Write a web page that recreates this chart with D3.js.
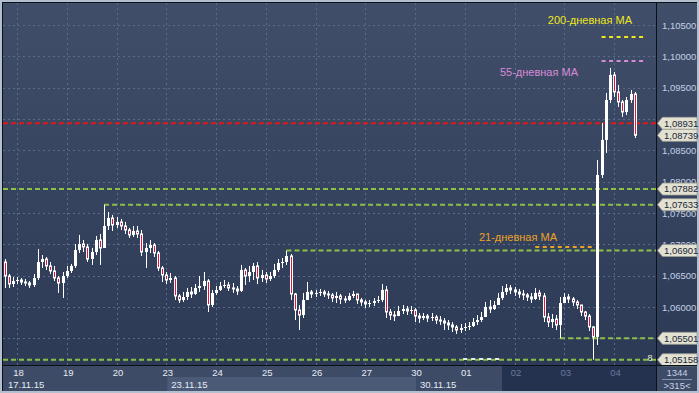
<!DOCTYPE html>
<html>
<head>
<meta charset="utf-8">
<script src="https://cdn.jsdelivr.net/npm/d3@7"></script>
<style>
body{margin:0;background:#b3bece;}
svg{display:block;font-family:"Liberation Sans",Arial,sans-serif;}
</style>
</head>
<body>
<svg id="chart" width="699" height="393"></svg>
<script>
// ---- data (EURUSD, H2 bars, open = previous close) ----
const firstOpen = 1.06718;
const closes = [
 1.06495,1.06367,1.06415,
 1.06431,1.06399,1.06383,1.06351,1.06463,1.06718,1.06766,1.06655,1.06575,1.06463,1.06383,1.06495,
 1.06575,1.06655,1.06910,1.07006,1.06958,1.06766,1.06878,1.07070,1.06942,1.07293,1.07421,1.07309,
 1.07357,1.07293,1.07229,1.07150,1.07213,1.07166,1.06878,1.06942,1.06990,1.06862,1.06623,1.06511,
 1.06431,1.06463,1.06176,1.06112,1.06160,1.06240,1.06208,1.06304,1.06335,1.06415,1.06032,1.06224,
 1.06272,1.06335,1.06351,1.06304,1.06288,1.06256,1.06591,1.06495,1.06559,1.06655,1.06463,1.06511,
 1.06447,1.06495,1.06591,1.06703,1.06718,1.06814,1.06208,1.05952,1.05872,1.06112,1.06240,1.06208,
 1.06224,1.06240,1.06208,1.06192,1.06144,1.06176,1.06128,1.06112,1.06176,1.06208,1.06112,1.06080,
 1.06048,1.06064,1.06096,1.06112,1.06272,1.05920,1.05872,1.05856,1.05936,1.05968,1.05936,1.05952,
 1.05856,1.05824,1.05856,1.05824,1.05840,1.05792,1.05776,1.05745,1.05713,1.05681,1.05633,1.05665,
 1.05681,1.05697,1.05760,1.05792,1.05840,1.06000,1.05968,1.06032,1.06144,1.06240,1.06304,1.06272,
 1.06240,1.06208,1.06192,1.06160,1.06128,1.06224,1.06176,1.05840,1.05760,1.05808,1.05713,1.06064,
 1.06160,1.06128,1.06080,1.06032,1.05920,1.05856,1.05681,1.05522,1.08107,1.08666,1.09304,1.09703,
 1.09432,1.09272,1.09112,1.09304,1.09400,1.08739
];
const highs = [
 1.06766,1.06527,1.06479,
 1.06479,1.06463,1.06447,1.06415,1.06527,1.06926,1.06830,1.06798,1.06718,1.06655,1.06495,1.06559,
 1.06655,1.06687,1.07006,1.07150,1.07070,1.07006,1.06942,1.07134,1.07166,1.07633,1.07516,1.07469,
 1.07437,1.07405,1.07357,1.07261,1.07293,1.07293,1.07229,1.07022,1.07070,1.07022,1.06894,1.06655,
 1.06559,1.06543,1.06495,1.06208,1.06240,1.06304,1.06319,1.06367,1.06495,1.06559,1.06447,1.06272,
 1.06335,1.06399,1.06431,1.06399,1.06383,1.06335,1.06671,1.06623,1.06655,1.06703,1.06718,1.06591,
 1.06559,1.06559,1.06687,1.06766,1.06782,1.06901,1.06846,1.06224,1.06032,1.06224,1.06399,1.06272,
 1.06272,1.06288,1.06272,1.06256,1.06224,1.06240,1.06208,1.06176,1.06224,1.06256,1.06208,1.06144,
 1.06112,1.06112,1.06144,1.06176,1.06367,1.06335,1.05968,1.05936,1.06016,1.06032,1.06016,1.06016,
 1.05984,1.05904,1.05904,1.05888,1.05904,1.05872,1.05856,1.05824,1.05792,1.05760,1.05713,1.05729,
 1.05745,1.05760,1.05824,1.05872,1.05920,1.06080,1.06112,1.06096,1.06224,1.06335,1.06367,1.06351,
 1.06319,1.06288,1.06272,1.06224,1.06224,1.06304,1.06272,1.06224,1.05904,1.05888,1.05872,1.06160,
 1.06224,1.06208,1.06160,1.06112,1.06000,1.05936,1.05888,1.05697,1.08346,1.08937,1.09416,1.09815,
 1.09751,1.09543,1.09304,1.09352,1.09464,1.09432
];
const lows = [
 1.06304,1.06304,1.06319,
 1.06367,1.06351,1.06335,1.06304,1.06319,1.06431,1.06623,1.06591,1.06527,1.06415,1.06224,1.06144,
 1.06463,1.06543,1.06623,1.06862,1.06878,1.06718,1.06671,1.06830,1.06671,1.07022,1.07229,1.07213,
 1.07261,1.07229,1.07166,1.07102,1.07118,1.07102,1.06814,1.06623,1.06862,1.06798,1.06575,1.06399,
 1.06367,1.06383,1.06112,1.06064,1.06080,1.06112,1.06144,1.06192,1.06240,1.06272,1.05920,1.06000,
 1.06192,1.06256,1.06304,1.06256,1.06224,1.06192,1.06240,1.06351,1.06399,1.06431,1.06367,1.06399,
 1.06383,1.06415,1.06463,1.06559,1.06623,1.06671,1.06112,1.05792,1.05633,1.05824,1.06112,1.06144,
 1.06160,1.06176,1.06160,1.06128,1.06080,1.06064,1.06048,1.06064,1.06096,1.06144,1.06048,1.06016,
 1.05984,1.06000,1.06016,1.06064,1.06080,1.05824,1.05792,1.05776,1.05856,1.05888,1.05872,1.05888,
 1.05760,1.05745,1.05792,1.05760,1.05776,1.05729,1.05713,1.05633,1.05633,1.05601,1.05569,1.05585,
 1.05617,1.05633,1.05681,1.05713,1.05760,1.05872,1.05904,1.05952,1.06048,1.06112,1.06192,1.06208,
 1.06176,1.06144,1.06112,1.06096,1.06064,1.06112,1.06112,1.05760,1.05681,1.05665,1.05633,1.05501,
 1.06080,1.06064,1.06016,1.05968,1.05856,1.05792,1.05617,1.05158,1.05394,1.08059,1.08458,1.09256,
 1.09352,1.09192,1.09033,1.09065,1.09256,1.08697
];

const dayLabels = ['18','19','20','23','24','25','26','27','30','01','02','03','04'];
const dayStartBar = [3,15,27,39,51,63,75,87,99,111,123,135,147];
const weekLabels = ['17.11.15','23.11.15','30.11.15'];
const weekStartBar = [0,39,99];
const yTicks = [1.105,1.100,1.095,1.090,1.085,1.080,1.075,1.070,1.065,1.060,1.055];

const levelPrices = [1.07882,1.07633,1.06901,1.05501,1.05158];
const levelFromBar = [null,24,68,134,null];
const redLevel = 1.08931;
const lastPrice = 1.08739;
const weekLowMark = 1.05172;

const maNames = ['200-дневная MA','55-дневная MA','21-дневная MA'];
const maValues = [1.10309,1.09926,1.06958];
const maFromBar = [144,144,128];
const maToBar = [154.5,154.5,142.5];

// ---- layout ----
const plotL = 3, plotR = 656, plotT = 3, plotB = 365;
const svg = d3.select('#chart');

const x = d3.scaleLinear().domain([0,150]).range([4.56, 4.56 + 150*4.146]);
const y = d3.scaleLinear().domain([1.06,1.105]).range([307,25]);
const fmt = v => d3.format('.5f')(v).replace('.', ',');

const defs = svg.append('defs');
const grad = defs.append('linearGradient').attr('id','bg')
  .attr('gradientUnits','userSpaceOnUse').attr('x1',0).attr('y1',plotT).attr('x2',0).attr('y2',plotB);
grad.append('stop').attr('offset','0%').attr('stop-color','#404e6a');
grad.append('stop').attr('offset','100%').attr('stop-color','#2c3a56');
defs.append('clipPath').attr('id','clip').append('rect')
  .attr('x',plotL).attr('y',plotT).attr('width',plotR-plotL).attr('height',plotB-plotT);

// frame
svg.append('rect').attr('width',699).attr('height',393).attr('fill','#b3bece');
svg.append('rect').attr('x',2).attr('y',2).attr('width',695).attr('height',389).attr('fill','#0c1018');
svg.append('rect').attr('x',plotL).attr('y',plotT).attr('width',plotR-plotL).attr('height',plotB-plotT).attr('fill','url(#bg)');
svg.append('rect').attr('x',plotR+1).attr('y',plotT).attr('width',697-plotR-1).attr('height',plotB-plotT).attr('fill','url(#bg)');

// bottom axis panel
const axB = svg.append('g');
axB.append('rect').attr('x',plotL).attr('y',plotB+1).attr('width',plotR-plotL).attr('height',25).attr('fill','#3d4b67');
axB.append('rect').attr('x',x(weekStartBar[1])+1).attr('y',377).attr('width',x(weekStartBar[2])-x(weekStartBar[1])).attr('height',14).attr('fill','#4b5a76');
axB.append('rect').attr('x',x(120)).attr('y',plotB+1).attr('width',plotR-x(120)).attr('height',25).attr('fill','#24324f');
svg.append('rect').attr('x',plotR+1).attr('y',plotB+1).attr('width',697-plotR-1).attr('height',25).attr('fill','#3d4b67');

// grid
const grid = svg.append('g').attr('clip-path','url(#clip)')
  .attr('stroke','#5a6a89').attr('stroke-width',1).attr('stroke-dasharray','2,3');
grid.selectAll('.gx').data(dayStartBar).join('line')
  .attr('x1',d=>Math.round(x(d))+0.5).attr('x2',d=>Math.round(x(d))+0.5)
  .attr('y1',plotT).attr('y2',plotB);
grid.selectAll('.gy').data(yTicks).join('line')
  .attr('x1',plotL).attr('x2',plotR)
  .attr('y1',d=>Math.round(y(d))+0.5).attr('y2',d=>Math.round(y(d))+0.5);

// level lines
const lev = svg.append('g').attr('clip-path','url(#clip)').attr('fill','none').attr('stroke-width',2);
lev.append('line').attr('x1',plotL).attr('x2',plotR).attr('y1',y(redLevel)).attr('y2',y(redLevel))
  .attr('stroke','#e01818').attr('stroke-dasharray','5,3');
lev.selectAll('.lv').data(levelPrices).join('line')
  .attr('x1',(d,i)=>levelFromBar[i]===null ? plotL : x(levelFromBar[i]))
  .attr('x2',plotR).attr('y1',d=>y(d)).attr('y2',d=>y(d))
  .attr('stroke','#8cc043').attr('stroke-dasharray','5,3');
lev.append('line').attr('x1',x(110.6)).attr('x2',x(119.5))
  .attr('y1',y(weekLowMark)).attr('y2',y(weekLowMark))
  .attr('stroke','#e8ecf0').attr('stroke-dasharray','4,4');

// moving averages
const maColors = ['#eee81c','#d98ad6','#eca224'];
lev.selectAll('.ma').data(maValues).join('line')
  .attr('x1',(d,i)=>x(maFromBar[i])).attr('x2',(d,i)=>x(maToBar[i]))
  .attr('y1',d=>y(d)).attr('y2',d=>y(d))
  .attr('stroke',(d,i)=>maColors[i]).attr('stroke-dasharray','4,3.5');
const maLabelPos = [[632,-17],[578,11],[557,-10]];
svg.selectAll('.mal').data(maNames).join('text')
  .attr('x',(d,i)=>maLabelPos[i][0]).attr('y',(d,i)=>y(maValues[i])+maLabelPos[i][1])
  .attr('text-anchor','end').attr('dy','0.35em')
  .attr('font-size',11).attr('fill',(d,i)=>maColors[i]).text(d=>d);

// candles
const bars = closes.map((c,i)=>({i, o: i===0 ? firstOpen : closes[i-1], c, h: highs[i], l: lows[i]}));
const cg = svg.append('g').attr('clip-path','url(#clip)');
const candle = cg.selectAll('g').data(bars).join('g');
candle.append('line')
  .attr('x1',d=>Math.round(x(d.i))+0.5).attr('x2',d=>Math.round(x(d.i))+0.5)
  .attr('y1',d=>y(d.h)).attr('y2',d=>y(d.l))
  .attr('stroke','#ffffff').attr('stroke-width',1);
candle.filter(d=>d.c>=d.o).append('rect')
  .attr('x',d=>Math.round(x(d.i))-1).attr('width',3)
  .attr('y',d=>y(d.c)).attr('height',d=>Math.max(1,y(d.o)-y(d.c)))
  .attr('fill','#ffffff');
candle.filter(d=>d.c<d.o).append('rect')
  .attr('x',d=>Math.round(x(d.i))-0.5).attr('width',2)
  .attr('y',d=>y(d.o)).attr('height',d=>Math.max(1,y(d.c)-y(d.o)))
  .attr('fill','#e3143c').attr('stroke','#ffffff').attr('stroke-width',1);

svg.append('text').attr('x',650).attr('y',y(levelPrices[4])+1).attr('text-anchor','middle')
  .attr('font-size',9).attr('fill','#e8eedc').text('8');

// right price axis
const yAxis = svg.append('g').attr('transform',`translate(${plotR+2},0)`)
  .call(d3.axisRight(y).tickValues(yTicks).tickSize(0).tickPadding(4).tickFormat(fmt));
yAxis.select('.domain').remove();
yAxis.selectAll('text').attr('fill','#c5d0e2').attr('font-size',9.5)
  .attr('font-family','"Liberation Sans",Arial,sans-serif');

// price tags
const tagPrices = [redLevel,lastPrice].concat(levelPrices);
const tags = svg.selectAll('.tag').data(tagPrices).join('g')
  .attr('transform',d=>`translate(0,${y(d)})`);
tags.append('path').attr('d','M657.5,0 L662.5,-6 L697,-6 L697,6 L662.5,6 Z')
  .attr('fill','#e3e1d1').attr('stroke','#9a9c94').attr('stroke-width',0.8);
tags.append('text').attr('x',664).attr('dy','0.35em')
  .attr('font-size',9.5).attr('fill','#17263a').text(d=>fmt(d));

// separators
svg.append('line').attr('x1',plotL).attr('x2',697).attr('y1',plotB+0.5).attr('y2',plotB+0.5).attr('stroke','#0c1018');
svg.append('line').attr('x1',plotR+0.5).attr('x2',plotR+0.5).attr('y1',plotT).attr('y2',391).attr('stroke','#0c1018');

// time axis
const xAxis = svg.append('g').attr('transform',`translate(1,${plotB+1})`)
  .call(d3.axisBottom(x).tickValues(dayStartBar).tickSize(0).tickPadding(3)
    .tickFormat((d,i)=>dayLabels[i]));
xAxis.select('.domain').remove();
xAxis.selectAll('text').attr('font-size',9.5).attr('font-family','"Liberation Sans",Arial,sans-serif')
  .attr('fill',d=>d>=120 ? '#6a7a9c' : '#e6ecf4');

svg.selectAll('.wk').data(weekLabels).join('text')
  .attr('x',(d,i)=>(i===0 ? plotL : x(weekStartBar[i])) + 5).attr('y',388)
  .attr('font-size',9.5).attr('fill','#e6ecf4').text(d=>d);

// corner box
svg.append('text').attr('x',677).attr('y',376).attr('text-anchor','middle')
  .attr('font-size',9.5).attr('fill','#c5d0e2').text('1344');
svg.append('line').attr('x1',662).attr('x2',692).attr('y1',379.5).attr('y2',379.5).attr('stroke','#8494b0');
svg.append('text').attr('x',677).attr('y',389).attr('text-anchor','middle')
  .attr('font-size',9.5).attr('fill','#c5d0e2').text('>315<');
</script>
</body>
</html>
